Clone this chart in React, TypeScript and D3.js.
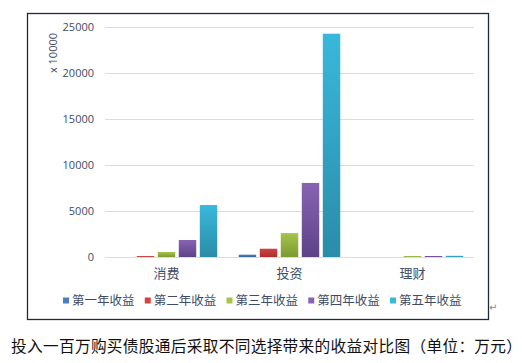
import * as d3 from 'd3'

const categories = ['消费', '投资', '理财']
const seriesNames = ['第一年收益', '第二年收益', '第三年收益', '第四年收益', '第五年收益']
// values[seriesIndex][categoryIndex], unit: 万元
const year1 = [0, 250, 0]
const year2 = [100, 900, 0]
const year3 = [550, 2600, 100]
const year4 = [1850, 8050, 110]
const year5 = [5650, 24270, 130]
const seriesValues = [year1, year2, year3, year4, year5]
const yTicks = [0, 5000, 10000, 15000, 20000, 25000]

const seriesColors = [
  ['#4a7fc1', '#3363a2'],
  ['#d2433f', '#ad2f2d'],
  ['#a5c44c', '#7c9b30'],
  ['#8764b3', '#5d4386'],
  ['#39b8dc', '#2a8ca8'],
]

const W = 522
const H = 363
const plot = { left: 105, right: 474, top: 27, bottom: 257 }
const textColor = '#3e4c66'
const cjk = '"Noto Sans CJK SC", "Noto Sans", sans-serif'

export default function App() {
  const x0 = d3.scaleBand<string>()
    .domain(categories)
    .range([plot.left, plot.right])
    .paddingInner(0.146)
    .paddingOuter(0.073)

  const x1 = d3.scaleBand<number>()
    .domain(d3.range(seriesNames.length))
    .range([0, x0.bandwidth()])
    .paddingInner(0.17)
    .paddingOuter(0.085)

  const y = d3.scaleLinear().domain([0, 25000]).range([plot.bottom, plot.top])

  const legendX = d3.scaleLinear().domain([0, 4]).range([63, 390])

  return (
    <svg width={W} height={H} style={{ position: 'absolute', left: 0, top: 0, background: '#fff' }}>
      <defs>
        {seriesColors.map((c, i) => (
          <linearGradient key={i} id={`grad${i}`} x1="0" y1="0" x2="0" y2="1">
            <stop offset="0%" stopColor={c[0]} />
            <stop offset="100%" stopColor={c[1]} />
          </linearGradient>
        ))}
      </defs>

      {/* frame */}
      <rect x={27.5} y={13.5} width={461} height={306} fill="none" stroke="#1d2b3e" strokeWidth={1.3} />

      {/* gridlines */}
      {yTicks.map((t) => (
        <g key={t}>
          <line x1={plot.left} x2={plot.right} y1={y(t) + 0.5} y2={y(t) + 0.5} stroke="#d6dde6" strokeWidth={1} />
          <text x={94} y={y(t)} dy="0.35em" textAnchor="end" fontSize={11} fill={textColor}
            fontFamily='"Open Sans", "Noto Sans", sans-serif'>{t}</text>
        </g>
      ))}

      <text transform="translate(57,53) rotate(-90)" textAnchor="middle" fontSize={11} fill={textColor}
        fontFamily='"Open Sans", "Noto Sans", sans-serif'>x 10000</text>

      {/* bars */}
      {categories.map((cat, ci) => (
        <g key={cat} transform={`translate(${x0(cat)},0)`}>
          {seriesValues.map((vals, si) => vals[ci] > 0 && (
            <rect key={si}
              x={x1(si)}
              y={y(vals[ci])}
              width={x1.bandwidth()}
              height={plot.bottom - y(vals[ci])}
              fill={`url(#grad${si})`} />
          ))}
        </g>
      ))}

      {/* category labels */}
      {categories.map((cat) => (
        <text key={cat} x={x0(cat)! + x0.bandwidth() / 2} y={278} textAnchor="middle"
          fontSize={13} fill={textColor} fontFamily={cjk}>{cat}</text>
      ))}

      {/* legend */}
      {seriesNames.map((name, i) => (
        <g key={name} transform={`translate(${legendX(i)},0)`}>
          <rect x={0} y={297.5} width={6} height={6} fill={seriesColors[i][0]} />
          <text x={9} y={305} fontSize={12.5} fill={textColor} fontFamily={cjk}>{name}</text>
        </g>
      ))}

      <text x={489} y={311} fontSize={10} fill="#8a8a8a" fontFamily='"DejaVu Sans", sans-serif'>↵</text>

      {/* caption */}
      <text x={11} y={352} fontSize={15.7} fill="#111" fontFamily={cjk}
        textLength={511} lengthAdjust="spacing">
        投入一百万购买债股通后采取不同选择带来的收益对比图（单位：万元）
      </text>
    </svg>
  )
}
